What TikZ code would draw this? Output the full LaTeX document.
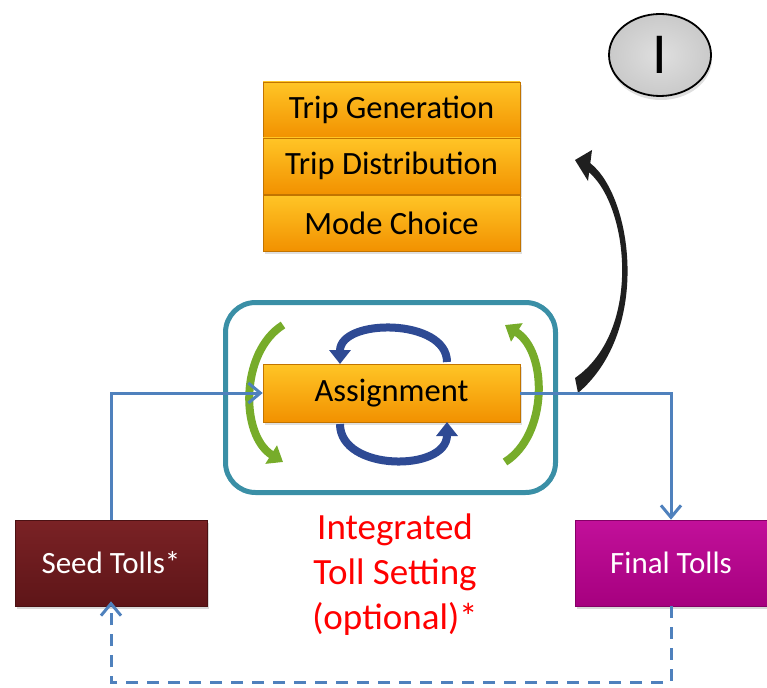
\documentclass[tikz,border=0pt]{standalone}
\usepackage{fontspec}
\setmainfont{Carlito}
\usetikzlibrary{arrows.meta,shadows,calc,shapes.geometric}
\definecolor{orTop}{HTML}{FFC526}
\definecolor{orBot}{HTML}{F29100}
\definecolor{tealF}{HTML}{3A8FA6}
\definecolor{lineB}{HTML}{4F81BD}
\definecolor{arcB}{HTML}{2E4A94}
\definecolor{arcG}{HTML}{77AC2A}
\definecolor{seedT}{HTML}{7A2225}
\definecolor{seedB}{HTML}{5E1518}
\definecolor{finT}{HTML}{C2109A}
\definecolor{finB}{HTML}{A6007F}
\tikzset{
  obox/.style={draw=orBot!80!black, line width=0.6pt, top color=orTop, bottom color=orBot,
    minimum width=257pt, minimum height=56pt, font=\fontsize{32.5}{36}\selectfont, text=black,
    drop shadow={opacity=0.25, shadow xshift=2pt, shadow yshift=-3pt}},
  tollbox/.style 2 args={draw=#2!80!black, line width=0.6pt, top color=#1, bottom color=#2,
    minimum width=192pt, minimum height=86pt, font=\fontsize{31}{34}\selectfont, text=white,
    drop shadow={opacity=0.3, shadow xshift=2pt, shadow yshift=-3pt}},
  flow/.style={draw=lineB, line width=3pt, -{Straight Barb[length=12pt, width=20pt, line width=3pt]}},
  bigarc/.style={line width=8pt, -{Triangle[length=14pt,width=21pt]}},
}
\begin{document}
\begin{tikzpicture}[x=1pt,y=-1pt]
\useasboundingbox (0,0) rectangle (767,687);
% circle I
\node (circI) [ellipse, draw=black, line width=1.8pt, inner color=gray!25, outer color=gray!42,
  minimum width=102pt, minimum height=82pt, font=\fontsize{58}{60}\selectfont,
  drop shadow={opacity=0.25, shadow xshift=1pt, shadow yshift=-4pt}] at (660,55) {I};
% stacked boxes
\node (tg) [obox] at (391.5,110) {Trip Generation};
\node (td) [obox] at (391.5,166) {Trip Distribution};
\node (mc) [obox] at (391.5,223) {Mode Choice};
% teal frame
\node (frame) [draw=tealF, line width=5pt, rounded corners=30pt, minimum width=330pt, minimum height=190pt] at (390.5,397.5) {};
% assignment
\node (assign) [obox, minimum height=58pt] at (391.5,393) {Assignment};
% arcs inside frame
\coordinate (bt1) at (447,362); \coordinate (bt2) at (340,364);
\draw[bigarc, arcB] (bt1) .. controls (447,318) and (340,318) .. (bt2);
\coordinate (bb1) at (340,424); \coordinate (bb2) at (447,422);
\draw[bigarc, arcB] (bb1) .. controls (340,472) and (447,472) .. (bb2);
\coordinate (gl1) at (283,325); \coordinate (gl2) at (283,462);
\draw[bigarc, arcG] (gl1) .. controls (240,352) and (240,435) .. (gl2);
\coordinate (gr1) at (505,462); \coordinate (gr2) at (505,325);
\draw[bigarc, arcG] (gr1) .. controls (548,435) and (548,352) .. (gr2);
% black feedback arc (tapered)
\coordinate (katail) at (576,385); \coordinate (kahead) at (575,160);
\fill[black!88] (590,163) .. controls (632,195) and (652,330) .. (578,393)
  -- (575,378) .. controls (644,330) and (628,200) .. (586,170) -- cycle;
\fill[black!88] (kahead) -- (592,150) -- (588,181) -- cycle;
% tolls
\node (seed) [tollbox={seedT}{seedB}] at (111,563) {Seed Tolls*};
\node (final) [tollbox={finT}{finB}] at (671,563) {Final Tolls};
% red label
\node (lbl) [text=red, align=center, font=\fontsize{37}{45}\selectfont] at (395,575) {Integrated\\Toll Setting\\(optional)*};
% flows
\draw[flow] (seed.north) |- (assign.west);
\draw[flow] (assign.east) -| (final.north);
\draw[flow, dash pattern=on 12pt off 9pt] (final.south) -- ++(0,76) -| ([yshift=5pt]seed.south);
\end{tikzpicture}
\end{document}
